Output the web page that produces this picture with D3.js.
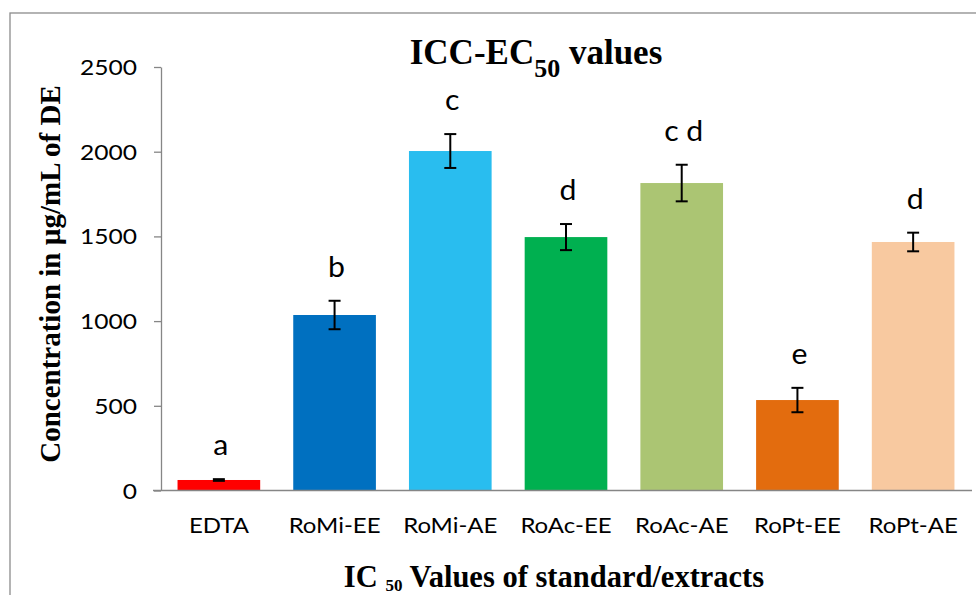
<!DOCTYPE html>
<html>
<head>
<meta charset="utf-8">
<script src="https://cdn.jsdelivr.net/npm/d3@7"></script>
<style>
  html, body { margin: 0; padding: 0; background: #fff; }
  svg { display: block; }
</style>
</head>
<body>
<svg id="chart" width="976" height="595"></svg>
<script>
// IC50 values (µg/mL of DE) of the EDTA standard and the extracts
const categories = ["EDTA", "RoMi-EE", "RoMi-AE", "RoAc-EE", "RoAc-AE", "RoPt-EE", "RoPt-AE"];
const values     = [62, 1036, 2004, 1496, 1815, 534, 1467];
const errors     = [5, 84, 100, 77, 108, 72, 55];
const groups     = ["a", "b", "c", "d", "c d", "e", "d"];
const colors     = ["#ff0000", "#0070c0", "#29bdef", "#00b050", "#abc573", "#e36c0e", "#f8c9a0"];
const yTicks     = [0, 500, 1000, 1500, 2000, 2500];

const svg = d3.select("#chart");
const W = 976, H = 595;
const margin = { top: 67, right: 5, bottom: 104.5, left: 161 };
const plotW = W - margin.left - margin.right;
const plotH = H - margin.top - margin.bottom;

const sansFont = "Lato, 'Open Sans', sans-serif";
const serifFont = "'Liberation Serif', 'Times New Roman', serif";
const stretch = 1.17;

// outer frame of the chart area
svg.append("rect")
  .attr("x", 10).attr("y", 13)
  .attr("width", 1100).attr("height", 800)
  .attr("fill", "#fff")
  .attr("stroke", "#8c8c8c").attr("stroke-width", 1.3);

const data = categories.map((c, i) => ({
  name: c, value: values[i], err: errors[i], group: groups[i], color: colors[i]
}));

const x = d3.scaleBand()
  .domain(categories)
  .range([0, plotW])
  .paddingInner(0.2857)
  .paddingOuter(0.1429);

const y = d3.scaleLinear().domain([0, 2500]).range([plotH, 0]);

const g = svg.append("g").attr("transform", `translate(${margin.left},${margin.top})`);

// bars
g.selectAll("rect.bar").data(data).join("rect")
  .attr("class", "bar")
  .attr("x", d => x(d.name))
  .attr("width", x.bandwidth())
  .attr("y", d => y(d.value))
  .attr("height", d => y(0) - y(d.value))
  .attr("fill", d => d.color);

// y axis
const yAxis = g.append("g")
  .call(d3.axisLeft(y).tickValues(yTicks).tickFormat(d3.format("d"))
    .tickSize(7).tickPadding(17).tickSizeOuter(0));
yAxis.select(".domain").attr("stroke", "#868686").attr("stroke-width", 1.3);
yAxis.selectAll(".tick line").attr("stroke", "#868686").attr("stroke-width", 1.3);
yAxis.selectAll(".tick text")
  .attr("font-family", sansFont)
  .attr("font-size", 21)
  .attr("fill", "#000")
  .attr("x", null)
  .attr("dy", "0.36em")
  .attr("transform", `translate(-24,0) scale(${stretch},1)`);

// x axis baseline
g.append("line")
  .attr("x1", -8).attr("x2", plotW + 1)
  .attr("y1", y(0)).attr("y2", y(0))
  .attr("stroke", "#868686").attr("stroke-width", 1.6);

// category labels
g.selectAll("text.cat").data(data).join("text")
  .attr("class", "cat")
  .attr("transform", d => `translate(${x(d.name) + x.bandwidth() / 2},${y(0) + 42.5}) scale(${stretch},1)`)
  .attr("text-anchor", "middle")
  .attr("font-family", sansFont)
  .attr("font-size", 20.5)
  .attr("fill", "#000")
  .text(d => d.name);

// error bars
const eb = g.selectAll("g.err").data(data).join("g").attr("class", "err")
  .attr("stroke", "#000").attr("stroke-width", 2);
eb.append("line")
  .attr("x1", d => x(d.name) + x.bandwidth() / 2)
  .attr("x2", d => x(d.name) + x.bandwidth() / 2)
  .attr("y1", d => y(d.value + d.err))
  .attr("y2", d => y(d.value - d.err));
eb.append("line")
  .attr("x1", d => x(d.name) + x.bandwidth() / 2 - 6)
  .attr("x2", d => x(d.name) + x.bandwidth() / 2 + 6)
  .attr("y1", d => y(d.value + d.err))
  .attr("y2", d => y(d.value + d.err));
eb.append("line")
  .attr("x1", d => x(d.name) + x.bandwidth() / 2 - 6)
  .attr("x2", d => x(d.name) + x.bandwidth() / 2 + 6)
  .attr("y1", d => y(d.value - d.err))
  .attr("y2", d => y(d.value - d.err));

// significance letters
g.selectAll("text.grp").data(data).join("text")
  .attr("class", "grp")
  .attr("transform", d => `translate(${x(d.name) + x.bandwidth() / 2 + 2},${y(d.value + d.err) - 24}) scale(1.08,1)`)
  .attr("text-anchor", "middle")
  .attr("font-family", sansFont)
  .attr("font-size", 28)
  .attr("fill", "#000")
  .text(d => d.group);

// chart title
const title = svg.append("text")
  .attr("x", 536).attr("y", 64)
  .attr("text-anchor", "middle")
  .attr("font-family", serifFont)
  .attr("font-weight", "bold")
  .attr("font-size", 35)
  .attr("fill", "#000");
title.append("tspan").text("ICC-EC");
title.append("tspan").attr("font-size", 26).attr("dy", 13).text("50");
title.append("tspan").attr("dy", -13).text(" values");

// x axis title
const xt = svg.append("text")
  .attr("x", 554).attr("y", 587)
  .attr("text-anchor", "middle")
  .attr("font-family", serifFont)
  .attr("font-weight", "bold")
  .attr("font-size", 30.5)
  .attr("fill", "#000");
xt.append("tspan").text("IC ");
xt.append("tspan").attr("font-size", 17).attr("dy", 4).text("50");
xt.append("tspan").attr("dy", -4).text(" Values of standard/extracts");

// y axis title
svg.append("text")
  .attr("transform", "translate(60,274) rotate(-90)")
  .attr("text-anchor", "middle")
  .attr("font-family", serifFont)
  .attr("font-weight", "bold")
  .attr("font-size", 29)
  .attr("fill", "#000")
  .text("Concentration in µg/mL of DE");
</script>
</body>
</html>
